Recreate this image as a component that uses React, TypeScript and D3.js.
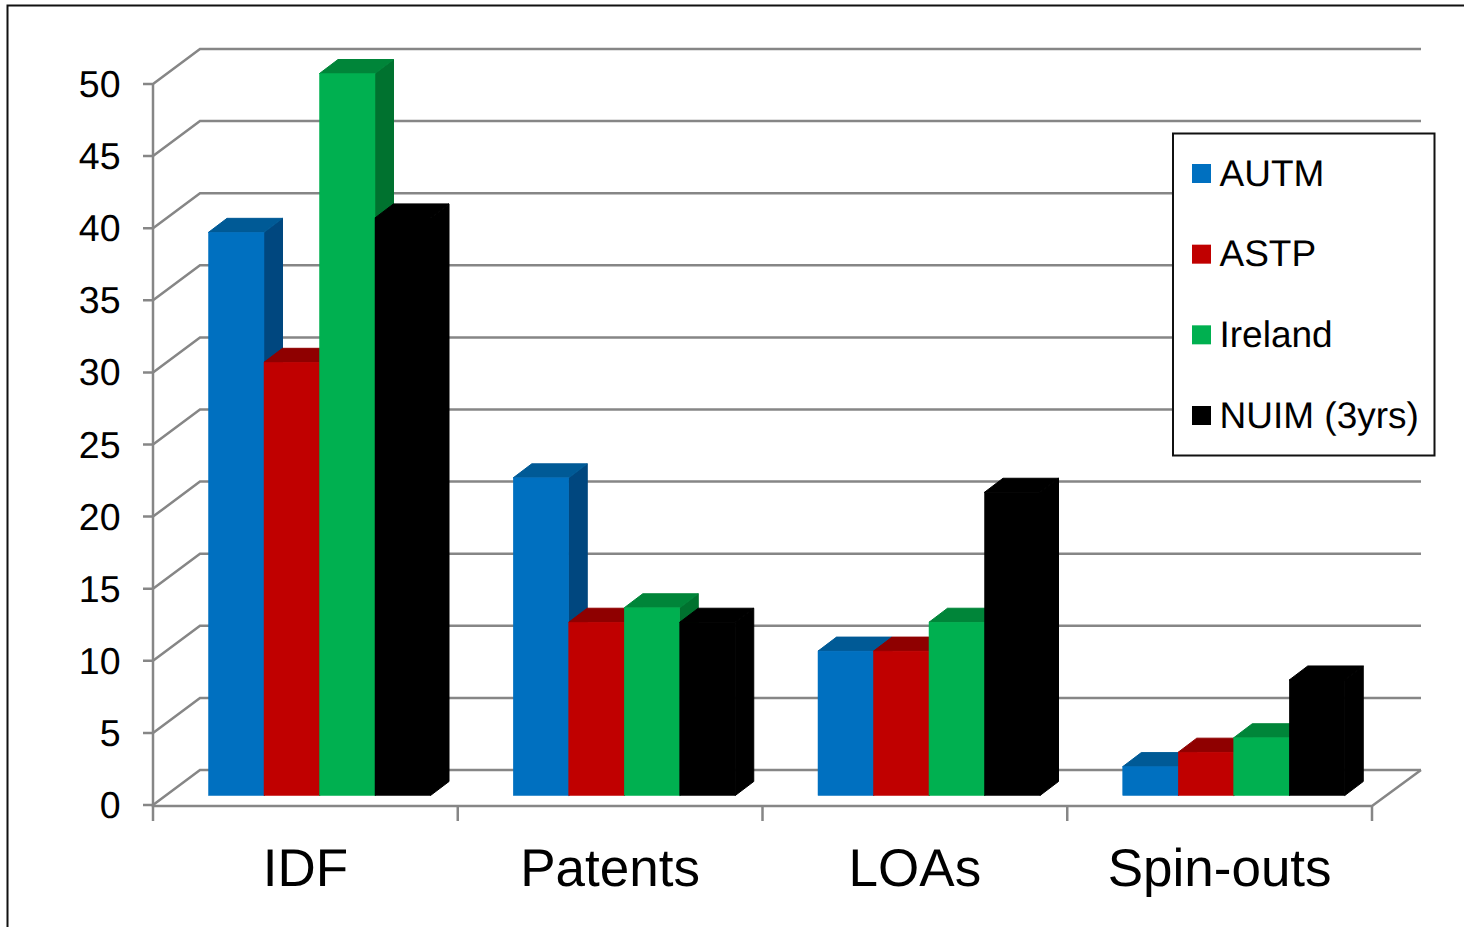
import React from "react";
import * as d3 from "d3";

const categories = ["IDF", "Patents", "LOAs", "Spin-outs"];
const seriesNames = ["AUTM", "ASTP", "Ireland", "NUIM (3yrs)"];
const autm = [39, 22, 10, 2];
const astp = [30, 12, 10, 3];
const ireland = [50, 13, 12, 4];
const nuim = [40, 12, 21, 8];
const seriesValues = [autm, astp, ireland, nuim];
const frontColors = ["#0070C0", "#C00000", "#00B050", "#000000"];
const topColors = ["#005A96", "#8F0000", "#008539", "#000000"];
const sideColors = ["#00477F", "#7A0000", "#00722F", "#000000"];
const yTicks = [0, 5, 10, 15, 20, 25, 30, 35, 40, 45, 50];

const FONT = "'Liberation Sans', Arial, sans-serif";
const GRID = "#868686";
const GRID_W = 2.5;

export default function App() {
  // axis plane (front edge of the floor)
  const y = d3.scaleLinear().domain([0, 50]).range([805, 84]);
  const x = d3.scaleLinear().domain([0, 4]).range([153, 1372]);
  const wallDx = 47;
  const wallDy = -35;
  // bars sit inside the floor
  const barY = d3.scaleLinear().domain([0, 50]).range([795.5, 73.5]);
  const barW = 55.5;
  const barInset = 55.5;
  const depthX = 18.5;
  const depthY = -14;

  return (
    <svg
      width={1464}
      height={927}
      viewBox="0 0 1464 927"
      textRendering="geometricPrecision"
      style={{ position: "absolute", left: 0, top: 0, display: "block", background: "#fff" }}
    >
      {/* outer frame, cut by the picture edge */}
      <path d="M7.5,927 V5.5 H1464" fill="none" stroke="#111" strokeWidth={2} />

      {/* back wall gridlines and left side wall diagonals */}
      {yTicks.map((t) => (
        <g key={t} fill="none" stroke={GRID} strokeWidth={GRID_W}>
          <path d={`M${x(0) - 10},${y(t)} H${x(0)} L${x(0) + wallDx},${y(t) + wallDy} H${x(4) + 49}`} />
        </g>
      ))}
      {/* floor front edge, side edge, axis and category ticks */}
      <path
        d={`M${x(0)},${y(50)} V${y(0) + 1} H${x(4)} L${x(4) + 49},${y(0) + wallDy}`}
        fill="none"
        stroke={GRID}
        strokeWidth={GRID_W}
      />
      {d3.range(0, 5).map((i) => (
        <line key={i} x1={x(i)} x2={x(i)} y1={y(0) + 1} y2={y(0) + 16} stroke={GRID} strokeWidth={GRID_W} />
      ))}

      {/* bars */}
      {categories.map((c, ci) =>
        seriesValues.map((vals, si) => {
          const x0 = x(ci) + barInset + si * barW;
          const x1 = x0 + barW;
          const yb = barY(0);
          const yt = barY(vals[ci]);
          return (
            <g key={c + si}>
              <path
                d={`M${x1},${yb} L${x1 + depthX},${yb + depthY} V${yt + depthY} L${x1},${yt} Z`}
                fill={sideColors[si]}
                stroke={sideColors[si]}
                strokeWidth={1}
              />
              <path
                d={`M${x0},${yt} L${x0 + depthX},${yt + depthY} H${x1 + depthX} L${x1},${yt} Z`}
                fill={topColors[si]}
                stroke={topColors[si]}
                strokeWidth={1}
              />
              <rect
                x={x0}
                y={yt}
                width={barW}
                height={yb - yt}
                fill={frontColors[si]}
                stroke={frontColors[si]}
                strokeWidth={0.5}
              />
            </g>
          );
        })
      )}

      {/* value labels */}
      {yTicks.map((t) => (
        <text key={t} x={120.5} y={y(t) + 13} textAnchor="end" fontFamily={FONT} fontSize={37.5} fill="#000">
          {t}
        </text>
      ))}

      {/* category labels */}
      {categories.map((c, i) => (
        <text
          key={c}
          x={x(i + 0.5)}
          y={885.5}
          textAnchor="middle"
          fontFamily={FONT}
          fontSize={53}
          fill="#000"
        >
          {c}
        </text>
      ))}

      {/* legend */}
      <rect x={1173} y={133.5} width={261.5} height={322} fill="#fff" stroke="#111" strokeWidth={2} />
      {seriesNames.map((s, i) => {
        const ly = d3.scaleLinear().domain([0, 3]).range([173.5, 415.5])(i);
        return (
          <g key={s}>
            <rect x={1192} y={ly - 9.5} width={19} height={19} fill={frontColors[i]} />
            <text x={1219.5} y={ly + 12} fontFamily={FONT} fontSize={37} fill="#000">
              {s}
            </text>
          </g>
        );
      })}
    </svg>
  );
}
